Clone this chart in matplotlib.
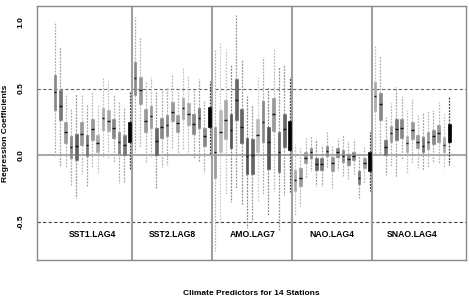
import numpy as np
import matplotlib
matplotlib.use("Agg")
import matplotlib.pyplot as plt
from matplotlib.colors import to_rgb

plt.rcParams['font.family'] = ['Liberation Sans', 'DejaVu Sans']

# predictor groups (15 boxes each: 14 stations + combined, drawn black)
groups = ['SST1.LAG4', 'SST2.LAG8', 'AMO.LAG7', 'NAO.LAG4', 'SNAO.LAG4']

# whisker top, q3, median, q1, whisker bottom for every box, group by group
whis_hi = [0.99, 0.81, 0.455, 0.35, 0.455, 0.455, 0.38, 0.475, 0.375, 0.59, 0.56, 0.45, 0.40, 0.355, 0.475,
           1.04, 0.89, 0.56, 0.59, 0.475, 0.50, 0.51, 0.605, 0.47, 0.66, 0.60, 0.495, 0.575, 0.41, 0.56,
           0.80, 0.85, 0.80, 0.675, 1.05, 0.725, 0.44, 0.375, 0.59, 0.74, 0.51, 0.80, 0.66, 0.675, 0.59,
           0.08, 0.05, 0.13, 0.14, 0.12, 0.075, 0.17, 0.07, 0.13, 0.15, 0.105, 0.12, 0.02, 0.06, 0.17,
           0.82, 0.745, 0.285, 0.39, 0.51, 0.445, 0.34, 0.42, 0.30, 0.32, 0.335, 0.34, 0.40, 0.31, 0.435]
q3 = [0.605, 0.49, 0.245, 0.14, 0.16, 0.245, 0.15, 0.27, 0.15, 0.35, 0.34, 0.27, 0.175, 0.15, 0.25,
      0.70, 0.59, 0.345, 0.37, 0.20, 0.28, 0.30, 0.395, 0.30, 0.43, 0.39, 0.305, 0.355, 0.205, 0.36,
      0.21, 0.34, 0.41, 0.305, 0.575, 0.345, 0.125, 0.12, 0.27, 0.405, 0.21, 0.43, 0.17, 0.31, 0.255,
      -0.11, -0.10, 0.02, 0.05, -0.02, -0.025, 0.07, -0.015, 0.05, 0.035, 0.005, 0.025, -0.12, -0.02, 0.02,
      0.55, 0.465, 0.115, 0.22, 0.27, 0.27, 0.14, 0.245, 0.15, 0.135, 0.17, 0.19, 0.225, 0.135, 0.235]
med = [0.47, 0.37, 0.17, 0.06, 0.07, 0.16, 0.075, 0.195, 0.09, 0.28, 0.255, 0.205, 0.10, 0.075, 0.175,
       0.58, 0.49, 0.255, 0.29, 0.105, 0.21, 0.225, 0.325, 0.24, 0.35, 0.305, 0.23, 0.28, 0.14, 0.29,
       0.025, 0.17, 0.26, 0.19, 0.41, 0.21, -0.01, 0.0, 0.15, 0.25, 0.10, 0.31, 0.025, 0.195, 0.15,
       -0.19, -0.17, -0.02, 0.02, -0.065, -0.065, 0.03, -0.06, 0.02, -0.01, -0.03, -0.01, -0.175, -0.06, -0.05,
       0.44, 0.38, 0.06, 0.165, 0.195, 0.20, 0.09, 0.185, 0.10, 0.07, 0.10, 0.14, 0.165, 0.075, 0.165]
q1 = [0.34, 0.26, 0.09, -0.02, -0.04, 0.075, -0.01, 0.11, 0.025, 0.19, 0.18, 0.125, 0.01, 0.0, 0.10,
      0.45, 0.38, 0.175, 0.205, 0.0, 0.13, 0.14, 0.255, 0.17, 0.27, 0.225, 0.155, 0.20, 0.07, 0.21,
      -0.175, 0.025, 0.12, 0.05, 0.26, 0.09, -0.14, -0.14, 0.025, 0.10, -0.105, 0.18, -0.13, 0.06, 0.04,
      -0.27, -0.23, -0.06, -0.02, -0.115, -0.115, -0.01, -0.12, -0.015, -0.05, -0.075, -0.04, -0.22, -0.10, -0.12,
      0.33, 0.265, 0.0, 0.10, 0.115, 0.125, 0.025, 0.12, 0.05, 0.02, 0.045, 0.085, 0.095, 0.025, 0.10]
whis_lo = [-0.015, -0.08, -0.10, -0.23, -0.32, -0.14, -0.24, -0.10, -0.14, -0.015, -0.03, -0.06, -0.21, -0.20, -0.115,
           0.02, 0.06, -0.05, -0.015, -0.25, -0.09, -0.075, 0.055, -0.01, 0.04, 0.01, -0.025, -0.05, -0.125, 0.01,
           -0.72, -0.51, -0.30, -0.35, -0.25, -0.375, -0.55, -0.50, -0.35, -0.30, -0.45, -0.27, -0.56, -0.30, -0.275,
           -0.45, -0.38, -0.175, -0.12, -0.235, -0.235, -0.10, -0.245, -0.11, -0.16, -0.18, -0.145, -0.32, -0.21, -0.27,
           0.0, 0.0, -0.15, -0.09, -0.165, -0.04, -0.14, -0.06, -0.10, -0.115, -0.09, -0.06, -0.065, -0.10, -0.075]

# fill shade of each box
shades = ['#888888', '#777777', '#999999', '#888888', '#666666', '#999999', '#777777', '#999999', '#aaaaaa', '#aaaaaa', '#aaaaaa', '#888888', '#888888', '#777777', '#000000',
          '#888888', '#999999', '#999999', '#999999', '#666666', '#888888', '#888888', '#999999', '#999999', '#aaaaaa', '#aaaaaa', '#888888', '#777777', '#888888', '#000000',
          '#999999', '#bbbbbb', '#aaaaaa', '#555555', '#666666', '#666666', '#555555', '#666666', '#bbbbbb', '#888888', '#555555', '#999999', '#666666', '#666666', '#000000',
          '#aaaaaa', '#999999', '#999999', '#888888', '#666666', '#777777', '#888888', '#999999', '#888888', '#888888', '#888888', '#888888', '#777777', '#999999', '#000000',
          '#aaaaaa', '#888888', '#777777', '#999999', '#777777', '#888888', '#aaaaaa', '#999999', '#999999', '#777777', '#999999', '#888888', '#999999', '#aaaaaa', '#000000']

n_per = 15
stats = []
for i in range(len(med)):
    stats.append(dict(whishi=whis_hi[i], q3=q3[i], med=med[i], q1=q1[i], whislo=whis_lo[i], fliers=[]))
pos = np.arange(1, len(stats) + 1)

def lighter(c, f=0.3):
    r = np.array(to_rgb(c))
    return tuple(r + (1 - r) * f)

fig = plt.figure(figsize=(4.69, 2.96), dpi=100)
ax = fig.add_axes([0.0789, 0.1216, 0.9147, 0.8581])

ax.axhline(0.5, color='#666666', lw=0.8, ls=(0, (3, 2)), zorder=1)
ax.axhline(-0.5, color='#444444', lw=0.8, ls=(0, (3, 2)), zorder=1)
ax.axhline(0.0, color='#999999', lw=1.2, zorder=1)
for k in range(1, len(groups)):
    ax.axvline(k * n_per + 0.5, color='#a0a0a0', lw=1.5, zorder=1)

bp = ax.bxp(stats, positions=pos, widths=0.5, patch_artist=True, showcaps=False,
            whiskerprops=dict(ls=(0, (1.5, 1)), lw=0.9),
            medianprops=dict(color='#111111', lw=1.0), zorder=3)
for i, b in enumerate(bp['boxes']):
    b.set_facecolor(shades[i])
    b.set_edgecolor(shades[i])
    b.set_linewidth(0.5)
for j, w in enumerate(bp['whiskers']):
    c = shades[j // 2]
    w.set_color('#444444' if c == '#000000' else lighter(c))

for k, g in enumerate(groups):
    ax.text(k * n_per + 8, -0.6, g, ha='center', va='center', fontsize=6.2, fontweight='bold')

ax.set_xlim(-2.4, 78.1)
ax.set_ylim(-0.789, 1.12)
ax.set_xticks([])
ax.set_yticks([-0.5, 0.0, 0.5, 1.0])
ax.set_yticklabels(['-0.5', '0.0', '0.5', '1.0'], rotation=90, va='center', fontsize=6, fontweight='bold')
ax.tick_params(axis='y', length=0, pad=9)
for s in ax.spines.values():
    s.set_color('#888888')
    s.set_linewidth(1.0)
ax.set_ylabel('Regression Coefficients', fontsize=6, fontweight='bold', labelpad=6)
fig.text(0.535, -0.002, 'Climate Predictors for 14 Stations', ha='center', va='bottom', fontsize=6, fontweight='bold')

fig.savefig('out.png', dpi=100)
